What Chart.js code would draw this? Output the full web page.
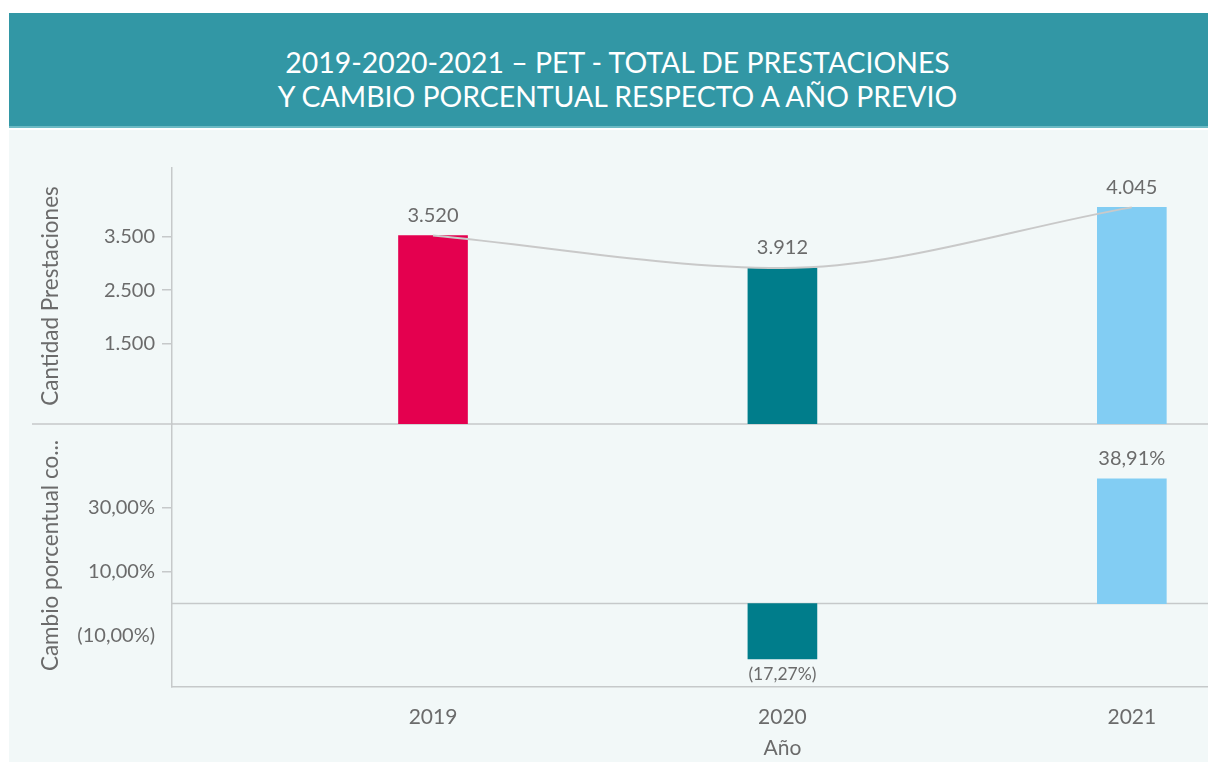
<!DOCTYPE html>
<html>
<head>
<meta charset="utf-8">
<script src="https://cdn.jsdelivr.net/npm/chart.js@4/dist/chart.umd.min.js"></script>
<style>
  body { margin: 0; background: #fff; font-family: Lato, sans-serif; }
  #header {
    position: absolute; left: 9px; top: 13px; width: 1199px; height: 115px;
    background: #3297a5; border-bottom: 2px solid #6cbac4;
    color: #fff; text-align: center; font-size: 28.4px; line-height: 34px;
    box-sizing: border-box; padding: 32px 0 0 18px;
  }
  #panel { position: absolute; left: 9px; top: 130px; width: 1199px; height: 632px; background: #f2f8f8; }
</style>
</head>
<body>
<div id="header">2019-2020-2021 – PET - TOTAL DE PRESTACIONES<br>Y CAMBIO PORCENTUAL RESPECTO A AÑO PREVIO</div>
<div id="panel"><canvas id="chart" width="1199" height="632"></canvas></div>
<script>
'use strict';

// Data
const years = [2019, 2020, 2021];
const prestaciones = [3520, 2912, 4045];
const prestacionesLabels = ['3.520', '3.912', '4.045']; // as printed on the original
const pctYears = [2020, 2021];
const pctChange = [-17.27, 38.91];
const countTicks = [1500, 2500, 3500];
const pctTicks = [-10, 10, 30];
const xTitle = 'Año';

const yearColors = ['#e4004f', '#007d8b', '#82cdf3'];
const textColor = '#6b6b6b';
const axisColor = '#c6c9ca';
const trendColor = '#c9c9c9';

const fmtCount = v => String(v).replace(/\B(?=(\d{3})+(?!\d))/g, '.');
const fmtPct = v => {
  const s = Math.abs(v).toFixed(2).replace('.', ',') + '%';
  return v < 0 ? '(' + s + ')' : s;
};

// Base lines, value labels and the x title (sits under the middle year in the original)
const extras = {
  id: 'extras',
  beforeDatasetsDraw(chart) {
    const { ctx, chartArea, scales } = chart;
    ctx.save();
    ctx.strokeStyle = axisColor;
    ctx.lineWidth = 1.5;
    const yb = scales.y.getPixelForValue(0);
    ctx.beginPath(); ctx.moveTo(23, yb); ctx.lineTo(chartArea.right, yb); ctx.stroke();
    const y0 = scales.y2.getPixelForValue(0);
    ctx.beginPath(); ctx.moveTo(chartArea.left, y0); ctx.lineTo(chartArea.right, y0); ctx.stroke();
    ctx.restore();
  },
  afterDatasetsDraw(chart) {
    const { ctx, scales } = chart;
    ctx.save();
    ctx.fillStyle = textColor;
    ctx.textAlign = 'center';
    ctx.textBaseline = 'middle';
    ctx.font = '20px Lato';
    chart.getDatasetMeta(0).data.forEach((bar, i) => {
      ctx.fillText(prestacionesLabels[i], bar.x, bar.y - 20);
    });
    chart.getDatasetMeta(2).data.forEach((bar, i) => {
      const v = pctChange[i];
      if (v < 0) {
        ctx.font = '17.5px Lato';
        ctx.fillText(fmtPct(v), bar.x, bar.y + 15);
      } else {
        ctx.font = '20px Lato';
        ctx.fillText(fmtPct(v), bar.x, bar.y - 20);
      }
    });
    ctx.font = '21px Lato';
    ctx.fillText(xTitle, scales.x.getPixelForValue(years[1]), scales.x.bottom - 14);
    ctx.restore();
  }
};

const fixWidth = s => { s.width = 163; };

new Chart(document.getElementById('chart'), {
  data: {
    datasets: [
      {
        type: 'bar',
        data: years.map((x, i) => ({ x, y: prestaciones[i] })),
        backgroundColor: yearColors,
        barThickness: 69,
        grouped: false,
        yAxisID: 'y',
        order: 2
      },
      {
        type: 'line',
        data: years.map((x, i) => ({ x, y: prestaciones[i] })),
        borderColor: trendColor,
        borderWidth: 2,
        cubicInterpolationMode: 'monotone',
        pointRadius: 0,
        yAxisID: 'y',
        order: 0
      },
      {
        type: 'bar',
        data: pctYears.map((x, i) => ({ x, y: pctChange[i] })),
        backgroundColor: yearColors.slice(1),
        barThickness: 69,
        grouped: false,
        yAxisID: 'y2',
        order: 1
      }
    ]
  },
  options: {
    responsive: false,
    animation: false,
    layout: { padding: { top: 38, left: 0, right: 0, bottom: 0 } },
    plugins: { legend: { display: false }, tooltip: { enabled: false } },
    scales: {
      x: {
        type: 'linear',
        offset: false,
        min: 2018.253,
        max: 2021.218,
        afterBuildTicks: s => { s.ticks = years.map(v => ({ value: v })); },
        afterFit: s => { s.height = 75; },
        grid: { display: false, drawTicks: false, offset: false },
        border: { display: true, color: axisColor, width: 1.5 },
        ticks: { color: textColor, font: { family: 'Lato', size: 21 }, padding: 18, maxRotation: 0, callback: v => String(v) },
        title: { display: false }
      },
      y2: {
        position: 'left',
        stack: 'panels',
        stackWeight: 263,
        min: -26,
        max: 56,
        afterBuildTicks: s => { s.ticks = pctTicks.map(v => ({ value: v })); },
        afterFit: fixWidth,
        grid: {
          display: true, drawOnChartArea: false, tickLength: 10, lineWidth: 1.5,
          color: axisColor,
          tickColor: c => (c.tick && c.tick.value < 0 ? 'rgba(0,0,0,0)' : axisColor)
        },
        border: { display: true, color: axisColor, width: 1.5 },
        ticks: { color: textColor, font: { family: 'Lato', size: 20 }, padding: 7, callback: v => fmtPct(v) },
        title: { display: true, text: 'Cambio porcentual co...', color: textColor, font: { family: 'Lato', size: 22.5 }, padding: { top: 28 } }
      },
      y: {
        position: 'left',
        stack: 'panels',
        stackWeight: 256,
        min: 0,
        max: 4780,
        afterBuildTicks: s => { s.ticks = countTicks.map(v => ({ value: v })); },
        afterFit: fixWidth,
        grid: { display: true, drawOnChartArea: false, tickLength: 10, color: axisColor, lineWidth: 1.5 },
        border: { display: true, color: axisColor, width: 1.5 },
        ticks: { color: textColor, font: { family: 'Lato', size: 20 }, padding: 7, callback: v => fmtCount(v) },
        title: { display: true, text: 'Cantidad Prestaciones', color: textColor, font: { family: 'Lato', size: 22.5 }, padding: { top: 28 } }
      }
    }
  },
  plugins: [extras]
});
</script>
</body>
</html>
